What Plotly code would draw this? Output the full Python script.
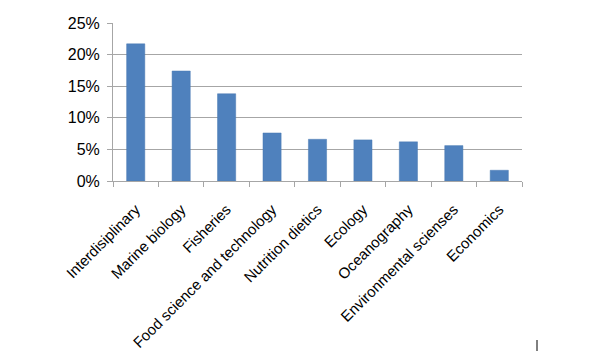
import plotly.graph_objects as go

categories = ["Interdisiplinary", "Marine biology", "Fisheries", "Food science and technology",
              "Nutrition dietics", "Ecology", "Oceanography", "Environmental scienses", "Economics"]
shares = [0.217, 0.174, 0.138, 0.076, 0.066, 0.065, 0.062, 0.056, 0.017]
y_ticks = [0, 0.05, 0.10, 0.15, 0.20, 0.25]
y_labels = ["0%", "5%", "10%", "15%", "20%", "25%"]

font_family = "Liberation Sans, Arial, sans-serif"

fig = go.Figure()
fig.add_trace(go.Bar(
    x=categories, y=shares,
    marker=dict(color="#4F81BD", line=dict(color="#4A7AB3", width=0.5)),
    width=0.4,
    hoverinfo="x+y",
))

fig.update_layout(
    width=607, height=363,
    margin=dict(l=113, r=85, t=23, b=182),
    paper_bgcolor="white", plot_bgcolor="white",
    showlegend=False,
    font=dict(family=font_family, color="#000000", size=13),
    bargap=0.6,
)
fig.update_xaxes(
    tickangle=-45,
    showline=True, linecolor="#A6A6A6", linewidth=1,
    ticks="outside", ticklen=5, tickcolor="#A6A6A6",
    tickson="boundaries",
    showgrid=False,
    tickfont=dict(size=15, family=font_family),
    ticklabelstandoff=13,
)
fig.update_yaxes(
    range=[0, 0.25],
    tickvals=y_ticks, ticktext=y_labels,
    showline=True, linecolor="#A6A6A6", linewidth=1,
    ticks="outside", ticklen=5, tickcolor="#A6A6A6",
    showgrid=True, gridcolor="#A6A6A6", gridwidth=1,
    zeroline=False,
    tickfont=dict(size=16, family=font_family),
    ticklabelstandoff=4,
)
fig.add_shape(type="line", xref="paper", yref="paper",
              x0=(537 - 113) / 409, x1=(537 - 113) / 409,
              y0=-(340 - 181) / 158, y1=-(351 - 181) / 158,
              line=dict(color="black", width=1))

fig.write_html("out.html")
